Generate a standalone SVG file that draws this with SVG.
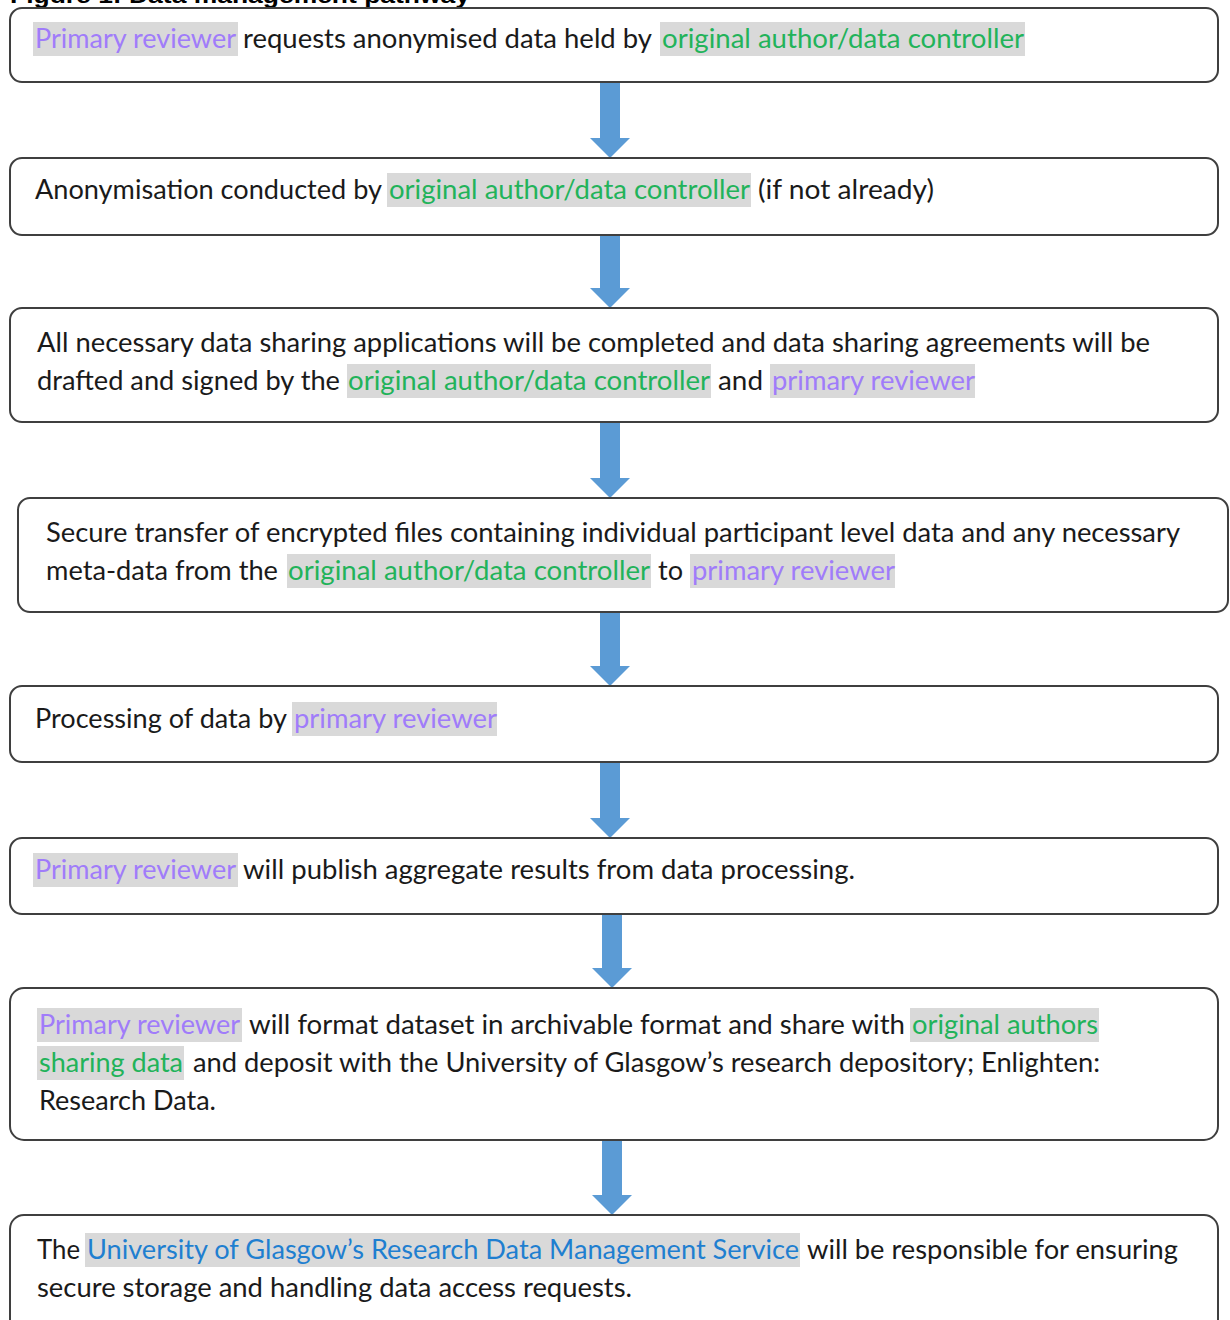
<svg xmlns="http://www.w3.org/2000/svg" width="1230" height="1320" viewBox="0 0 1230 1320">
<style>
.box{fill:#fff;stroke:#3f3f3f;stroke-width:2}
.hl{fill:#d9d9d9}
text{font-family:Lato,"Open Sans","Liberation Sans",sans-serif;font-size:26px;fill:#1a1a1a}
.p{fill:#a07cfa}
.g{fill:#22b35a}
.b{fill:#1f7fd0}
.title{font-family:"Liberation Sans",Arial,sans-serif;font-weight:bold;font-size:22px;fill:#000}
.arrow{fill:#5b9bd5}
</style>
<defs>
<path id="arr" d="M-10,0 H10 V-20 H20 L0,0 Z"/>
</defs>
<rect width="1230" height="1320" fill="#fff"/>
<text class="title" x="10" y="3" textLength="460" lengthAdjust="spacingAndGlyphs">Figure 1: Data management pathway</text>

<g id="connectors">
<path class="arrow" d="M600,82 H620 V138 H630 L610,158 L590,138 H600 Z"/>
<path class="arrow" d="M600,235 H620 V288 H630 L610,308 L590,288 H600 Z"/>
<path class="arrow" d="M600,422 H620 V478 H630 L610,498 L590,478 H600 Z"/>
<path class="arrow" d="M600,612 H620 V666 H630 L610,686 L590,666 H600 Z"/>
<path class="arrow" d="M600,762 H620 V818 H630 L610,838 L590,818 H600 Z"/>
<path class="arrow" d="M602,914 H622 V968 H632 L612,988 L592,968 H602 Z"/>
<path class="arrow" d="M602,1140 H622 V1195 H632 L612,1215 L592,1195 H602 Z"/>
</g>

<g id="node1">
<rect class="box" x="10" y="8" width="1208" height="74" rx="12"/>
<rect class="hl" x="33" y="22" width="205" height="34"/>
<rect class="hl" x="660" y="22" width="365" height="34"/>
<text y="48"><tspan class="p" x="35" textLength="201" lengthAdjust="spacingAndGlyphs">Primary reviewer</tspan><tspan x="243" textLength="409" lengthAdjust="spacingAndGlyphs">requests anonymised data held by</tspan><tspan class="g" x="662" textLength="362" lengthAdjust="spacingAndGlyphs">original author/data controller</tspan></text>
</g>

<g id="node2">
<rect class="box" x="10" y="158" width="1208" height="77" rx="12"/>
<rect class="hl" x="387" y="173" width="364" height="34"/>
<text y="199"><tspan x="35" textLength="347" lengthAdjust="spacingAndGlyphs">Anonymisation conducted by</tspan><tspan class="g" x="389" textLength="361" lengthAdjust="spacingAndGlyphs">original author/data controller</tspan><tspan x="758" textLength="176" lengthAdjust="spacingAndGlyphs">(if not already)</tspan></text>
</g>

<g id="node3">
<rect class="box" x="10" y="308" width="1208" height="114" rx="12"/>
<rect class="hl" x="347" y="364" width="364" height="34"/>
<rect class="hl" x="770" y="364" width="205" height="34"/>
<text y="352" x="37" textLength="1113" lengthAdjust="spacingAndGlyphs">All necessary data sharing applications will be completed and data sharing agreements will be</text>
<text y="390"><tspan x="37" textLength="303" lengthAdjust="spacingAndGlyphs">drafted and signed by the</tspan><tspan class="g" x="348" textLength="362" lengthAdjust="spacingAndGlyphs">original author/data controller</tspan><tspan x="718" textLength="45" lengthAdjust="spacingAndGlyphs">and</tspan><tspan class="p" x="772" textLength="203" lengthAdjust="spacingAndGlyphs">primary reviewer</tspan></text>
</g>

<g id="node4">
<rect class="box" x="18" y="498" width="1210" height="114" rx="12"/>
<rect class="hl" x="287" y="554" width="364" height="34"/>
<rect class="hl" x="690" y="554" width="205" height="34"/>
<text y="542" x="46" textLength="1134" lengthAdjust="spacingAndGlyphs">Secure transfer of encrypted files containing individual participant level data and any necessary</text>
<text y="580"><tspan x="46" textLength="232" lengthAdjust="spacingAndGlyphs">meta-data from the</tspan><tspan class="g" x="288" textLength="362" lengthAdjust="spacingAndGlyphs">original author/data controller</tspan><tspan x="658" textLength="25" lengthAdjust="spacingAndGlyphs">to</tspan><tspan class="p" x="692" textLength="203" lengthAdjust="spacingAndGlyphs">primary reviewer</tspan></text>
</g>

<g id="node5">
<rect class="box" x="10" y="686" width="1208" height="76" rx="12"/>
<rect class="hl" x="292" y="702" width="205" height="34"/>
<text y="728"><tspan x="35" textLength="252" lengthAdjust="spacingAndGlyphs">Processing of data by</tspan><tspan class="p" x="294" textLength="203" lengthAdjust="spacingAndGlyphs">primary reviewer</tspan></text>
</g>

<g id="node6">
<rect class="box" x="10" y="838" width="1208" height="76" rx="12"/>
<rect class="hl" x="33" y="853" width="205" height="34"/>
<text y="879"><tspan class="p" x="35" textLength="201" lengthAdjust="spacingAndGlyphs">Primary reviewer</tspan><tspan x="243" textLength="612" lengthAdjust="spacingAndGlyphs">will publish aggregate results from data processing.</tspan></text>
</g>

<g id="node7">
<rect class="box" x="10" y="988" width="1208" height="152" rx="14"/>
<rect class="hl" x="37" y="1008" width="205" height="34"/>
<rect class="hl" x="910" y="1008" width="189" height="34"/>
<rect class="hl" x="37" y="1046" width="147" height="34"/>
<text y="1034"><tspan class="p" x="39" textLength="201" lengthAdjust="spacingAndGlyphs">Primary reviewer</tspan><tspan x="249" textLength="656" lengthAdjust="spacingAndGlyphs">will format dataset in archivable format and share with</tspan><tspan class="g" x="912" textLength="186" lengthAdjust="spacingAndGlyphs">original authors</tspan></text>
<text y="1072"><tspan class="g" x="39" textLength="144" lengthAdjust="spacingAndGlyphs">sharing data</tspan><tspan x="193" textLength="907" lengthAdjust="spacingAndGlyphs">and deposit with the University of Glasgow’s research depository; Enlighten:</tspan></text>
<text y="1110" x="39" textLength="177" lengthAdjust="spacingAndGlyphs">Research Data.</text>
</g>

<g id="node8">
<rect class="box" x="10" y="1215" width="1208" height="130" rx="14"/>
<rect class="hl" x="85" y="1233" width="715" height="34"/>
<text y="1259"><tspan x="37" textLength="43" lengthAdjust="spacingAndGlyphs">The</tspan><tspan class="b" x="87" textLength="712" lengthAdjust="spacingAndGlyphs">University of Glasgow’s Research Data Management Service</tspan><tspan x="807" textLength="371" lengthAdjust="spacingAndGlyphs">will be responsible for ensuring</tspan></text>
<text y="1297" x="37" textLength="595" lengthAdjust="spacingAndGlyphs">secure storage and handling data access requests.</text>
</g>
</svg>
